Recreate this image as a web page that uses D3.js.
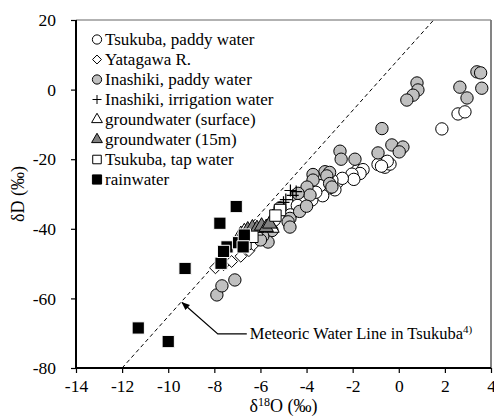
<!DOCTYPE html>
<html>
<head>
<meta charset="utf-8">
<script src="https://d3js.org/d3.v7.min.js"></script>
<style>
  body { margin: 0; background: white; }
  svg text { font-family: "Liberation Serif", "Times New Roman", Times, serif !important; fill: black; }
</style>
</head>
<body>
<div class="plot"></div>
<script>
// Data: [d18O, dD]
var tsukubaPaddy = [[1.87,-11.3],[2.57,-7.0],[2.87,-6.4],[-0.6,-22.3],[-0.38,-21.4],[-0.5,-20.6],
  [-0.9,-21.5],[-0.75,-22.0],[-1.8,-23.3],[-1.55,-23.0],[-1.68,-24.1],[-2.03,-24.3],[-1.95,-25.8],
  [-2.68,-26.7],[-2.77,-28.8],[-3.0,-28.2],[-3.3,-30.5],[-3.42,-27.6],[-3.77,-31.7],[-2.45,-25.5],
  [-4.1,-32.5],[-4.4,-33.3],[-4.7,-36.0],[-5.4,-37.5],[-2.9,-26.0],[-3.6,-29.5]];
var yatagawa = [[-7.95,-51.2],[-7.6,-50.3],[-7.25,-49.4],[-6.85,-47.9],[-6.5,-46.3],[-6.3,-44.6]];
var inashikiPaddy = [[3.39,5.1],[3.55,4.8],[3.6,0.4],[2.65,0.7],[2.96,-2.4],[0.79,1.9],[0.83,-0.1],
  [0.62,-1.6],[0.35,-3.0],[-0.73,-11.2],[-0.3,-15.9],[0.18,-16.5],[0.02,-17.9],[-0.9,-18.2],
  [-2.55,-17.7],[-2.5,-20.0],[-1.9,-20.0],[-3.2,-23.6],[-3.0,-23.8],[-3.72,-24.4],[-3.12,-24.8],
  [-3.0,-27.0],[-3.72,-26.0],[-3.98,-28.0],[-3.85,-30.3],[-4.37,-29.8],[-2.9,-28.0],[-5.15,-34.0],
  [-4.72,-37.0],[-4.8,-38.0],[-4.72,-39.5],[-5.93,-41.3],[-5.5,-40.5],[-5.67,-43.8],[-5.9,-42.1],
  [-6.0,-43.2],[-7.89,-59.0],[-7.67,-56.4],[-7.11,-54.7],[-4.3,-35.0],[-4.0,-33.5]];
var inashikiIrrigation = [[-4.45,-29.3],[-4.6,-30.4],[-4.9,-31.6],[-5.0,-32.4],[-5.25,-34.5],[-4.7,-29.0]];
var gwSurface = [[-6.85,-41.6],[-6.7,-40.8],[-6.45,-41.2],[-6.2,-40.6],[-5.5,-39.8]];
var gw15m = [[-6.55,-40.3],[-6.35,-39.7],[-6.15,-39.9],[-5.95,-39.2],[-5.75,-39.6],[-5.6,-38.6]];
var tapWater = [[-5.15,-34.6],[-6.65,-44.3],[-6.35,-42.3],[-5.35,-36.2]];
var rainwater = [[-7.05,-33.6],[-7.76,-38.4],[-9.27,-51.4],[-11.3,-68.5],[-10.0,-72.4],[-7.71,-49.9],
  [-7.45,-45.2],[-7.6,-46.5],[-6.95,-44.0],[-6.7,-41.8],[-6.75,-45.2]];

var seriesNames = ["Tsukuba, paddy water", "Yatagawa R.", "Inashiki, paddy water",
  "Inashiki, irrigation water", "groundwater (surface)", "groundwater (15m)",
  "Tsukuba, tap water", "rainwater"];
var xTicks = [-14, -12, -10, -8, -6, -4, -2, 0, 2, 4];
var yTicks = [-80, -60, -40, -20, 0, 20];
// meteoric water line: dD = slope * d18O + intercept
var mwlSlope = 7.4, mwlIntercept = 8.8;

var margin = {top: 20, right: 3, bottom: 51, left: 76},
    outerWidth = 494,
    outerHeight = 419,
    width = outerWidth - margin.left - margin.right,
    height = outerHeight - margin.top - margin.bottom;

var svg = d3.select(".plot").append("svg")
    .attr("width", outerWidth)
    .attr("height", outerHeight);

var canvas = svg.append("g")
    .attr("transform", "translate(" + margin.left + "," + margin.top + ")");

var xScale = d3.scaleLinear().domain([-14, 4]).range([0, width]);
var yScale = d3.scaleLinear().domain([-80, 20]).range([height, 0]);

// top and right frame in grey
canvas.append("line").attr("x1", 0).attr("x2", width).attr("y1", 0).attr("y2", 0)
    .attr("stroke", "#666").attr("stroke-width", 1.2);
canvas.append("line").attr("x1", width).attr("x2", width).attr("y1", 0).attr("y2", height)
    .attr("stroke", "#777").attr("stroke-width", 1.8);

// meteoric water line (dashed)
var defs = svg.append("defs");
defs.append("clipPath").attr("id", "clip").append("rect")
    .attr("width", width).attr("height", height);
var mwlX0 = (-80 - mwlIntercept) / mwlSlope, mwlX1 = (20 - mwlIntercept) / mwlSlope;
canvas.append("line")
    .attr("x1", xScale(mwlX0)).attr("y1", yScale(-80))
    .attr("x2", xScale(mwlX1)).attr("y2", yScale(20))
    .attr("stroke", "black").attr("stroke-width", 1)
    .attr("stroke-dasharray", "4,3");

// symbol helpers
var symbols = [
  {data: tsukubaPaddy, type: d3.symbolCircle, fill: "white", stroke: "black", size: 120},
  {data: yatagawa, type: d3.symbolDiamond2, fill: "white", stroke: "black", size: 90},
  {data: inashikiPaddy, type: d3.symbolCircle, fill: "#c0c0c0", stroke: "black", size: 120},
  {data: inashikiIrrigation, type: "plus", fill: "none", stroke: "black", size: 12},
  {data: gwSurface, type: d3.symbolTriangle, fill: "white", stroke: "black", size: 90},
  {data: gw15m, type: d3.symbolTriangle, fill: "#808080", stroke: "black", size: 90},
  {data: tapWater, type: d3.symbolSquare, fill: "white", stroke: "black", size: 130},
  {data: rainwater, type: d3.symbolSquare, fill: "black", stroke: "white", size: 150}
];

function plusPath(s) {
  var h = s / 2;
  return "M" + (-h) + ",0H" + h + "M0," + (-h) + "V" + h;
}

function symbolPath(sym, scale) {
  if (sym.type === "plus") return plusPath(sym.size * scale);
  return d3.symbol().type(sym.type).size(sym.size * scale * scale)();
}

var marks = canvas.append("g").attr("clip-path", "url(#clip)");
symbols.forEach(function (sym) {
  marks.selectAll(null)
      .data(sym.data)
      .enter().append("path")
      .attr("d", symbolPath(sym, 1))
      .attr("transform", d => "translate(" + xScale(d[0]) + "," + yScale(d[1]) + ")")
      .attr("fill", sym.fill)
      .attr("stroke", sym.stroke)
      .attr("stroke-width", sym.type === "plus" ? 1.2 : 1);
});

// axes
var xAxis = d3.axisBottom(xScale).tickValues(xTicks).tickSize(5).tickPadding(7)
    .tickFormat(d3.format("d"));
var yAxis = d3.axisLeft(yScale).tickValues(yTicks).tickSize(5).tickPadding(15)
    .tickFormat(d3.format("d"));

var gx = canvas.append("g")
    .attr("transform", "translate(0," + height + ")")
    .call(xAxis);
var gy = canvas.append("g").call(yAxis);

[gx, gy].forEach(function (g) {
  g.select(".domain").attr("stroke", "black").attr("stroke-width", 2);
  g.selectAll(".tick line").attr("stroke", "black").attr("stroke-width", 1.2);
  g.selectAll(".tick text")
      .attr("font-size", 17.5)
      .text(d => d < 0 ? "-" + Math.abs(d) : d);
});
gx.select(".domain").attr("d", "M0,0H" + width);
gy.select(".domain").attr("d", "M0," + height + "V0");

// axis titles
var xTitle = canvas.append("text")
    .attr("x", width / 2)
    .attr("y", height + 44)
    .attr("text-anchor", "middle")
    .attr("font-size", 18);
xTitle.append("tspan").text("δ");
xTitle.append("tspan").attr("font-size", 12).attr("dy", -6).text("18");
xTitle.append("tspan").attr("dy", 6).text("O (‰)");

canvas.append("text")
    .attr("transform", "translate(" + (-52) + "," + (height / 2) + ") rotate(-90)")
    .attr("text-anchor", "middle")
    .attr("font-size", 18)
    .text("δD (‰)");

// legend
var legend = canvas.append("g")
    .attr("transform", "translate(" + 21 + "," + 19.5 + ")");
symbols.forEach(function (sym, i) {
  var row = legend.append("g").attr("transform", "translate(0," + (i * 20) + ")");
  row.append("path")
      .attr("d", symbolPath(sym, 0.75))
      .attr("fill", sym.fill)
      .attr("stroke", sym.fill === "black" ? "black" : sym.stroke)
      .attr("stroke-width", 1);
  row.append("text")
      .attr("x", 8)
      .attr("dy", "0.34em")
      .attr("font-size", 17)
      .text(seriesNames[i]);
});

// MWL annotation with arrow
defs.append("marker")
    .attr("id", "arrow")
    .attr("viewBox", "0 0 10 10")
    .attr("refX", 9).attr("refY", 5)
    .attr("markerWidth", 7).attr("markerHeight", 7)
    .attr("orient", "auto-start-reverse")
    .append("path").attr("d", "M0,1L10,5L0,9Z").attr("fill", "black");

var tipX = -9.4, tipY = -61.2;
var elbow = [xScale(-7.85), yScale(-70.2)];
canvas.append("path")
    .attr("d", "M" + (elbow[0] + 29) + "," + elbow[1] + "H" + elbow[0] +
               "L" + xScale(tipX) + "," + yScale(tipY))
    .attr("fill", "none")
    .attr("stroke", "black")
    .attr("stroke-width", 1.2)
    .attr("marker-end", "url(#arrow)");

var note = canvas.append("text")
    .attr("x", elbow[0] + 32)
    .attr("y", elbow[1] + 5)
    .attr("font-size", 16.5);
note.append("tspan").text("Meteoric Water Line in Tsukuba");
note.append("tspan").attr("font-size", 11).attr("dy", -6).text("4)");
</script>
</body>
</html>
